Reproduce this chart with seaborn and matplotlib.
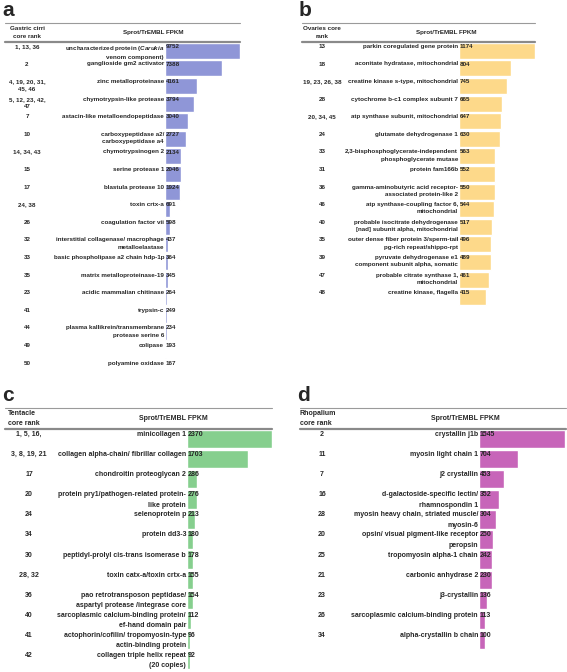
import pandas as pd
import seaborn as sns
import matplotlib.pyplot as plt
import matplotlib.transforms as mtransforms
from matplotlib.lines import Line2D

# ---- data ----
ranks_a = ["1, 13, 36", "2", "4, 19, 20, 31,\n45, 46", "5, 12, 23, 42,\n47", "7", "10",
           "14, 34, 43", "15", "17", "24, 38", "26", "32", "33", "35", "23", "41", "44", "49", "50"]
names_a = ["uncharacterized protein ($\\it{Carukia}$\nvenom component)", "ganglioside gm2 activator",
           "zinc metalloproteinase", "chymotrypsin-like protease", "astacin-like metalloendopeptidase",
           "carboxypeptidase a2/\ncarboxypeptidase a4", "chymotrypsinogen 2", "serine protease 1",
           "blastula protease 10", "toxin crtx-a", "coagulation factor vii",
           "interstitial collagenase/ macrophage\nmetalloelastase", "basic phospholipase a2 chain hdp-1p",
           "matrix metalloproteinase-19", "acidic mammalian chitinase", "trypsin-c",
           "plasma kallikrein/transmembrane\nprotease serine 6", "colipase", "polyamine oxidase"]
fpkm_a = [9752, 7388, 4161, 3794, 3040, 2727, 2134, 2046, 1924, 691, 598, 437, 364, 345, 264, 249, 234, 193, 167]

ranks_b = ["13", "18", "19, 23, 26, 38", "28", "20, 34, 45", "24", "33", "31", "36", "46",
           "40", "35", "39", "47", "48"]
names_b = ["parkin coregulated gene protein", "aconitate hydratase, mitochondrial",
           "creatine kinase s-type, mitochondrial", "cytochrome b-c1 complex subunit 7",
           "atp synthase subunit, mitochondrial", "glutamate dehydrogenase 1",
           "2,3-bisphosphoglycerate-independent\nphosphoglycerate mutase", "protein fam166b",
           "gamma-aminobutyric acid receptor-\nassociated protein-like 2",
           "atp synthase-coupling factor 6,\nmitochondrial",
           "probable isocitrate dehydrogenase\n[nad] subunit alpha, mitochondrial",
           "outer dense fiber protein 3/sperm-tail\npg-rich repeat/shippo-rpt",
           "pyruvate dehydrogenase e1\ncomponent subunit alpha, somatic",
           "probable citrate synthase 1,\nmitochondrial", "creatine kinase, flagella"]
fpkm_b = [1174, 804, 745, 665, 647, 630, 563, 552, 550, 544, 517, 496, 489, 461, 415]

ranks_c = ["1, 5, 16,", "3, 8, 19, 21", "17", "20", "24", "34", "30", "28, 32", "36", "40", "41", "42"]
names_c = ["minicollagen 1", "collagen alpha-chain/ fibrillar collagen", "chondroitin proteoglycan 2",
           "protein pry1/pathogen-related protein-\nlike protein", "selenoprotein p", "protein dd3-3",
           "peptidyl-prolyl cis-trans isomerase b", "toxin catx-a/toxin crtx-a",
           "pao retrotransposon peptidase/\naspartyl protease /integrase core",
           "sarcoplasmic calcium-binding protein/\nef-hand domain pair",
           "actophorin/cofilin/ tropomyosin-type\nactin-binding protein",
           "collagen triple helix repeat\n(20 copies)"]
fpkm_c = [2370, 1703, 286, 276, 213, 180, 178, 155, 154, 112, 96, 92]

ranks_d = ["2", "11", "7", "16", "28", "20", "25", "21", "23", "26", "34"]
names_d = ["crystallin j1b", "myosin light chain 1", "j2 crystallin",
           "d-galactoside-specific lectin/\nrhamnospondin 1",
           "myosin heavy chain, striated muscle/\nmyosin-6",
           "opsin/ visual pigment-like receptor\nperopsin", "tropomyosin alpha-1 chain",
           "carbonic anhydrase 2", "j3-crystallin", "sarcoplasmic calcium-binding protein",
           "alpha-crystallin b chain"]
fpkm_d = [1545, 704, 453, 352, 304, 250, 242, 230, 136, 113, 100]

sns.set_style("white")
plt.rcParams["font.family"] = ["Liberation Sans", "DejaVu Sans"]
plt.rcParams["mathtext.fontset"] = "custom"
plt.rcParams["mathtext.it"] = "Liberation Sans:italic:bold"
plt.rcParams["mathtext.rm"] = "Liberation Sans:bold"

W, H = 567, 672
fig = plt.figure(figsize=(W / 100, H / 100), dpi=100)


def fx(x):
    return x / W


def fy(y):
    return 1 - y / H


panels = [
    dict(tag="a", ranks=ranks_a, names=names_a, vals=fpkm_a, color="#8f96d7",
         x0=165, x1=240, lx0=5, lx1=240, top=23, thick=42, rh=17.6, rank_x=27,
         head="Gastric cirri\ncore rank", head_x=27, head_ha="center", sprot_x=153,
         fs=4.5, ls=1.55, pad=1.9),
    dict(tag="b", ranks=ranks_b, names=names_b, vals=fpkm_b, color="#fdd98a",
         x0=459, x1=535, lx0=302, lx1=535, top=23, thick=42, rh=17.6, rank_x=322,
         head="Ovaries core\nrank", head_x=322, head_ha="center", sprot_x=446,
         fs=4.5, ls=1.55, pad=1.9),
    dict(tag="c", ranks=ranks_c, names=names_c, vals=fpkm_c, color="#86cf8e",
         x0=187, x1=272, lx0=5, lx1=272, top=408, thick=429, rh=20.1, rank_x=29,
         head="Tentacle\ncore rank", head_x=8, head_ha="left", sprot_x=173,
         fs=5.0, ls=1.65, pad=2.0),
    dict(tag="d", ranks=ranks_d, names=names_d, vals=fpkm_d, color="#c765b9",
         x0=479, x1=565, lx0=300, lx1=566, top=408, thick=429, rh=20.1, rank_x=322,
         head="Rhopalium\ncore rank", head_x=300, head_ha="left", sprot_x=465,
         fs=5.0, ls=1.65, pad=2.0),
]

for p in panels:
    n = len(p["vals"])
    bottom = p["thick"] + n * p["rh"]
    ax = fig.add_axes([fx(p["x0"]), fy(bottom), fx(p["x1"] - p["x0"]), (bottom - p["thick"]) / H])
    df = pd.DataFrame({"name": p["names"], "fpkm": p["vals"]})
    sns.barplot(data=df, x="fpkm", y="name", orient="h", color=p["color"],
                width=0.92, saturation=1, ax=ax)
    ax.set_xlim(0, max(p["vals"]))
    ax.set_ylim(n - 0.5, -0.5)
    ax.axis("off")

    tr = mtransforms.blended_transform_factory(fig.transFigure, ax.transData)
    fs = p["fs"]
    off = p["pad"] / p["rh"]
    for i in range(n):
        y = i - 0.5 + off
        ax.text(fx(p["rank_x"]), y, p["ranks"][i], transform=tr, ha="center", va="top",
                fontsize=fs, fontweight="bold", linespacing=p["ls"], clip_on=False)
        ax.text(fx(p["x0"] - 1), y, p["names"][i], transform=tr, ha="right", va="top",
                fontsize=fs, fontweight="bold", linespacing=p["ls"], clip_on=False)
        ax.text(fx(p["x0"] + 1), y, str(p["vals"][i]), transform=tr, ha="left", va="top",
                fontsize=fs, fontweight="bold", clip_on=False)

    # header
    mid = (p["top"] + p["thick"]) / 2
    fig.text(fx(p["head_x"]), fy(mid), p["head"], ha=p["head_ha"], va="center",
             fontsize=fs, fontweight="bold", linespacing=p["ls"])
    fig.text(fx(p["sprot_x"]), fy(mid), "Sprot/TrEMBL FPKM", ha="center", va="center",
             fontsize=fs, fontweight="bold")
    fig.add_artist(Line2D([fx(p["lx0"]), fx(p["lx1"])], [fy(p["top"]), fy(p["top"])],
                          color="#9a9a9a", lw=0.8))
    fig.add_artist(Line2D([fx(p["lx0"]), fx(p["lx1"])], [fy(p["thick"]), fy(p["thick"])],
                          color="#8a8a8a", lw=1.6))
    fig.text(fx(p["lx0"] - 3), fy(p["top"] - 7), p["tag"], ha="left", va="baseline",
             fontsize=15, fontweight="bold", family="Liberation Sans")

fig.savefig("out.png", dpi=100)
